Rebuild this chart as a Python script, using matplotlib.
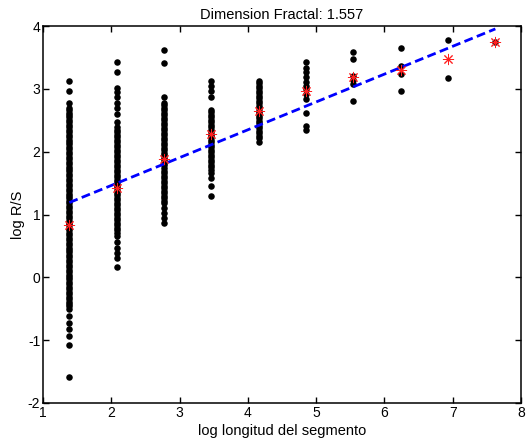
import matplotlib
matplotlib.use('Agg')
import matplotlib.pyplot as plt
import numpy as np

plt.rcParams['font.family'] = ['Liberation Sans', 'DejaVu Sans']
plt.rcParams['axes.unicode_minus'] = False

# segment lengths (log taken below)
seg_len = [4, 8, 16, 32, 64, 128, 256, 512, 1024, 2048]

# log R/S values
rs_4 = [3.13, 2.97, 2.77,
        2.70, 2.66, 2.62, 2.58, 2.55, 2.51, 2.47, 2.43, 2.39, 2.35, 2.31, 2.27,
        2.23, 2.19, 2.15, 2.12, 2.08, 2.04, 2.00, 1.96, 1.92, 1.88, 1.84, 1.80,
        1.76, 1.72, 1.69, 1.65, 1.61, 1.57, 1.53, 1.49, 1.45, 1.41, 1.37, 1.33,
        1.29, 1.26, 1.22, 1.18, 1.14, 1.10, 1.06, 1.02, 0.98, 0.94, 0.90, 0.86,
        0.83, 0.79, 0.75, 0.71, 0.67, 0.63, 0.59, 0.55, 0.51, 0.47, 0.43, 0.40,
        0.36, 0.32, 0.28, 0.24, 0.20, 0.16, 0.12, 0.08, 0.04, 0.00, -0.03,
        -0.07, -0.11, -0.15, -0.19, -0.23, -0.27, -0.31, -0.35, -0.39, -0.43,
        -0.46, -0.50, -0.61, -0.72, -0.82, -0.93, -1.07, -1.58]
rs_8 = [3.42, 3.27, 3.02, 2.95, 2.87, 2.77, 2.69, 2.60, 2.48,
        2.39, 2.35, 2.31, 2.27, 2.23, 2.19, 2.15, 2.11, 2.07, 2.03, 1.99, 1.95,
        1.91, 1.87, 1.83, 1.79, 1.75, 1.71, 1.67, 1.63, 1.59, 1.55, 1.51, 1.47,
        1.43, 1.39, 1.35, 1.31, 1.27, 1.23, 1.19, 1.15, 1.11, 1.07, 1.03, 0.99,
        0.95, 0.91, 0.87, 0.83, 0.79, 0.75, 0.71,
        0.65, 0.57, 0.46, 0.38, 0.30, 0.17]
rs_16 = [3.62, 3.41, 2.87,
         2.78, 2.74, 2.70, 2.66, 2.62, 2.58, 2.54, 2.50, 2.46, 2.42, 2.38, 2.34,
         2.30, 2.26, 2.22, 2.18, 2.14, 2.10, 2.06, 2.02, 1.98, 1.94, 1.90, 1.86,
         1.82, 1.78, 1.74, 1.70, 1.66, 1.62, 1.58, 1.54, 1.50, 1.46, 1.42, 1.38,
         1.34, 1.30, 1.26, 1.22,
         1.18, 1.10, 1.02, 0.94, 0.86]
rs_32 = [3.13, 3.04, 2.96, 2.87,
         2.67, 2.63, 2.59, 2.55, 2.51, 2.47, 2.43, 2.39, 2.35, 2.31, 2.27, 2.23,
         2.19, 2.15, 2.11, 2.07, 2.03, 1.99, 1.95, 1.91, 1.87, 1.83, 1.79, 1.75,
         1.71, 1.66, 1.58, 1.46, 1.30]
rs_64 = [3.13, 3.09, 3.05, 3.01, 2.97, 2.93, 2.89, 2.85, 2.81, 2.77, 2.73,
         2.69, 2.65, 2.61, 2.57, 2.53, 2.49, 2.45, 2.41, 2.37, 2.33, 2.29, 2.25,
         2.21, 2.16]
rs_128 = [3.43, 3.33, 3.26, 3.19, 3.11, 3.05, 2.99, 2.92, 2.84, 2.61, 2.41, 2.35]
rs_256 = [3.58, 3.48, 3.20, 3.14, 3.08, 2.81]
rs_512 = [3.65, 3.36, 3.24, 2.96]
rs_1024 = [3.77, 3.18]
rs_2048 = [3.74]

columns = [rs_4, rs_8, rs_16, rs_32, rs_64, rs_128, rs_256, rs_512, rs_1024, rs_2048]

# mean per column (red stars)
rs_mean = [0.84, 1.42, 1.88, 2.28, 2.65, 2.96, 3.19, 3.30, 3.48, 3.74]

# fit: slope H, fractal dimension = 2 - H
hurst = 0.443
intercept = 0.576

log_n = np.log(seg_len)

fig = plt.figure(figsize=(5.30, 4.43), dpi=100)
ax = fig.add_axes([0.0811, 0.0903, 0.9019, 0.8510])

for xv, col in zip(log_n, columns):
    ax.plot(np.full(len(col), xv), col, 'o', color='black', ms=4.7, mew=0, zorder=2)

ax.plot(log_n, rs_mean, linestyle='none', marker=(8, 2, 0), color='#ff2020',
        ms=8, mew=0.7, zorder=4)

fit_x = np.array([log_n[0], log_n[-1]])
ax.plot(fit_x, intercept + hurst * fit_x, '--', color='#0000ff', lw=2,
        dashes=(3.2, 1.6), zorder=3)

ax.set_xlim(1, 8)
ax.set_ylim(-2, 4)
ax.set_xticks(range(1, 9))
ax.set_yticks(range(-2, 5))
ax.tick_params(direction='in', length=4.5, width=1, top=True, right=True,
               labelsize=10, pad=2)
for s in ax.spines.values():
    s.set_linewidth(1.1)

ax.set_title('Dimension Fractal: %.3f' % (2 - hurst), fontsize=10.5, pad=5)
ax.set_xlabel('log longitud del segmento', fontsize=10.5, labelpad=3)
ax.set_ylabel('log R/S', fontsize=10.5, labelpad=2)

fig.savefig('out.png', dpi=100)
